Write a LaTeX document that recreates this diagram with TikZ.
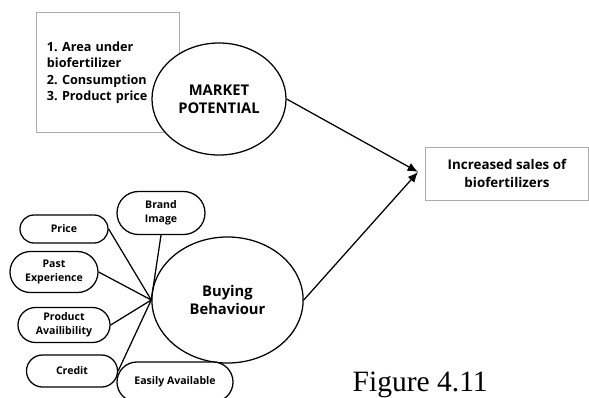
\documentclass[tikz,border=0pt]{standalone}
\usepackage{fontspec}
\setsansfont{Open Sans}
\newfontfamily\capfont{Liberation Serif}
\usetikzlibrary{shapes.geometric, shapes.misc, arrows.meta}
\frenchspacing

\begin{document}
\begin{tikzpicture}[x=0.025cm, y=-0.025cm, line width=0.9pt,
    listbox/.style={draw=gray!65, line width=0.7pt, rectangle, inner xsep=0.25cm,
      align=left, font=\sffamily\bfseries\fontsize{9}{11.7}\selectfont},
    bigoval/.style={draw, ellipse, fill=white, align=center, inner sep=0pt,
      font=\sffamily\bfseries\fontsize{10.5}{12.8}\selectfont},
    pill/.style={draw, rounded rectangle, fill=white, align=center, inner sep=0pt,
      font=\sffamily\bfseries\fontsize{7.5}{10}\selectfont}]
    \useasboundingbox (0, 0) rectangle (589, 397);
    % market side
    \node [listbox, text width=3.05cm, minimum height=2.975cm] (factors) at (108, 72.5)
      {1. Area under\\ biofertilizer\\ 2. Consumption\\ 3. Product price};
    \node [bigoval, minimum width=3.35cm, minimum height=2.8cm] (market) at (219, 99)
      {MARKET\\ POTENTIAL};
    % result
    \node [draw=gray!65, line width=0.7pt, rectangle, minimum width=4.05cm, minimum height=1.325cm,
      align=center, font=\sffamily\bfseries\fontsize{9.5}{12.8}\selectfont] (sales) at (507, 173.5)
      {Increased sales of\\ biofertilizers};
    \coordinate (tip) at (418, 172);
    % buying side
    \node [bigoval, minimum width=3.78cm, minimum height=3.15cm] (buying) at (227.5, 300)
      {Buying\\ Behaviour};
    \node [pill, minimum width=2.2cm, minimum height=1.075cm] (brand) at (161, 213) {Brand\\ Image};
    \node [pill, minimum width=2.2cm, minimum height=0.7cm] (price) at (64, 229) {Price};
    \node [pill, minimum width=2.2cm, minimum height=1.025cm] (past) at (54, 272) {Past\\ Experience};
    \node [pill, minimum width=2.3cm, minimum height=0.875cm] (avail) at (64, 325) {Product\\ Availibility};
    \node [pill, minimum width=2.275cm, minimum height=0.8cm] (credit) at (72, 371) {Credit};
    \node [pill, minimum width=2.9cm, minimum height=1.0cm] (easy) at (175, 382) {Easily Available};
    \coordinate (hub) at (buying.west);
    \foreach \f/\a in {brand/south, price/east, past/east, avail/east, credit/east}
      \draw (\f.\a) -- (hub);
    % arrows
    \draw [-{Latex[length=2.6mm, width=2.2mm]}] (market.east) -- (tip);
    \draw [-{Latex[length=2.6mm, width=2.2mm]}] (buying.east) -- (tip);
    \node [anchor=base west, inner sep=0pt, font=\capfont\fontsize{21}{24}\selectfont] (fig) at (352, 391)
      {Figure 4.11};
\end{tikzpicture}
\end{document}
